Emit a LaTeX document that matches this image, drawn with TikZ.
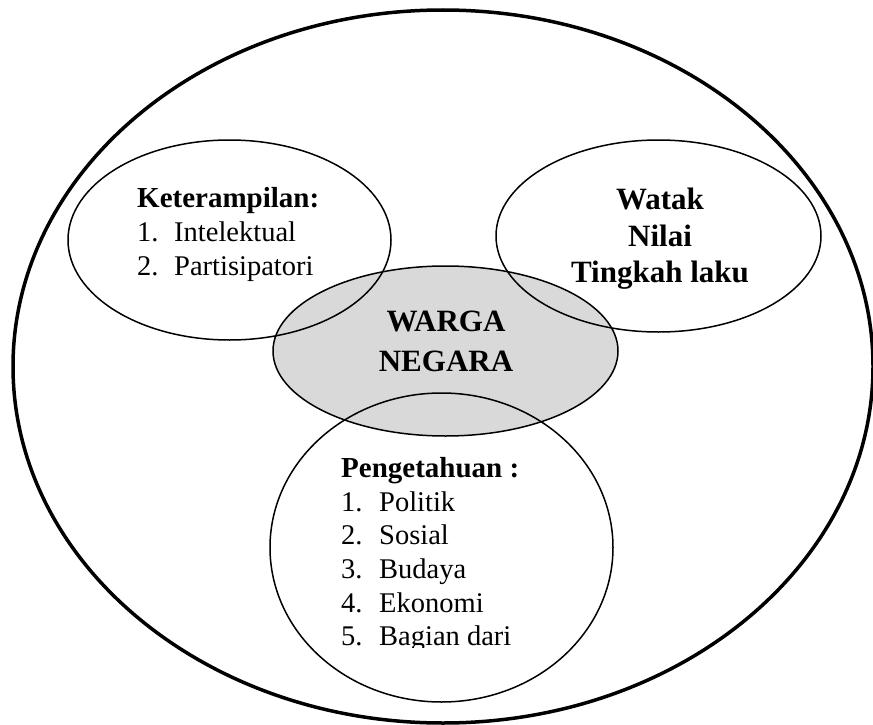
\documentclass[tikz,border=0pt]{standalone}
\usepackage{fontspec}
\setmainfont{Liberation Serif}
\usetikzlibrary{shapes.geometric}
\begin{document}
\begin{tikzpicture}[x=1pt,y=-1pt,
  ring/.style={draw=black, ellipse, inner sep=0pt, line width=1.5pt},
  bigring/.style={draw=black, ellipse, inner sep=0pt, line width=3.5pt},
  headtxt/.style={inner sep=0pt, font=\fontsize{29}{34}\selectfont\bfseries},
  itemtxt/.style={inner sep=0pt, anchor=base west, font=\fontsize{28.5}{34}\selectfont},
  centertxt/.style={inner sep=0pt, anchor=base, font=\fontsize{31}{37}\selectfont\bfseries}]
\useasboundingbox (0,0) rectangle (873,725);
\definecolor{greyfill}{HTML}{D9D9D9}
% outer ellipse
\node[bigring, minimum width=860pt, minimum height=713pt] (outer) at (443,366.5) {};
% central grey ellipse
\node[ring, fill=greyfill, minimum width=345pt, minimum height=170pt] (warga) at (445.5,351) {};
% three ellipses
\node[ring, minimum width=323pt, minimum height=200pt] (ket) at (229.5,240) {};
\node[ring, minimum width=325pt, minimum height=192pt] (wat) at (658.5,236) {};
\node[ring, minimum width=343pt, minimum height=309pt] (pen) at (441.5,547.5) {};
% Keterampilan text
\node[headtxt, anchor=base west] (kh) at (137,207) {Keterampilan:};
\node[itemtxt] (k1n) at (137,241) {1.};
\node[itemtxt] (k1) at (174,241) {Intelektual};
\node[itemtxt] (k2n) at (137,275) {2.};
\node[itemtxt] (k2) at (174,275) {Partisipatori};
% Watak text
\node[centertxt] (w1) at (660,209) {Watak};
\node[centertxt] (w2) at (660,246) {Nilai};
\node[centertxt] (w3) at (660,282) {Tingkah laku};
% Warga Negara
\node[centertxt] (g1) at (446,331) {WARGA};
\node[centertxt] (g2) at (446,371) {NEGARA};
% Pengetahuan text
\begin{scope}
\clip (0,0) rectangle (873,647);
\node[headtxt, anchor=base west] (ph) at (341,477) {Pengetahuan :};
\node[itemtxt] (p1n) at (341,511) {1.};
\node[itemtxt] (p1) at (379,511) {Politik};
\node[itemtxt] (p2n) at (341,544) {2.};
\node[itemtxt] (p2) at (379,544) {Sosial};
\node[itemtxt] (p3n) at (341,578) {3.};
\node[itemtxt] (p3) at (379,578) {Budaya};
\node[itemtxt] (p4n) at (341,612) {4.};
\node[itemtxt] (p4) at (379,612) {Ekonomi};
\node[itemtxt] (p5n) at (341,645) {5.};
\node[itemtxt] (p5) at (379,645) {Bagian dari};
\end{scope}
\end{tikzpicture}
\end{document}
